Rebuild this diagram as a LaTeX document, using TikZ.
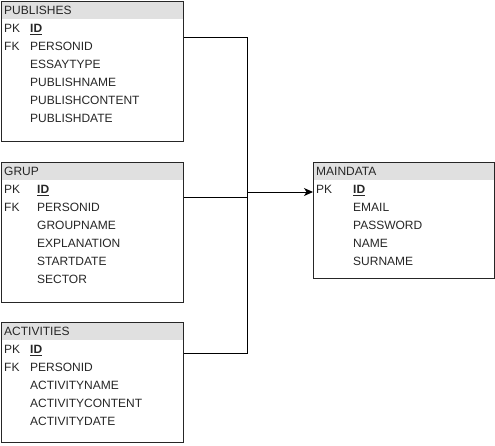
\documentclass[tikz,border=0pt]{standalone}
\usepackage{fontspec}
\setmainfont{Liberation Sans}
\usetikzlibrary{arrows.meta}

\tikzset{
  tablebox/.style={draw=black!85, line width=1pt, inner sep=0pt, anchor=north west},
  tablehead/.style={fill=black!12, inner sep=0pt, anchor=north west, minimum height=18},
  field/.style={inner sep=0pt, anchor=west, text height=8.6pt, text depth=0pt, text=black!85, font=\fontsize{12}{14}\selectfont},
  link/.style={line width=1pt},
}
\newcommand{\keyfield}[1]{\underline{\textbf{#1}}}

\begin{document}
\begin{tikzpicture}[x=1pt, y=-1pt]
    \useasboundingbox (0,0) rectangle (495,445);

    % PUBLISHES
    \node [tablehead, minimum width=182] (pubhead) at (1,1) {};
    \node [tablebox, minimum width=182, minimum height=140] (pub) at (1,1) {};
    \node [field] (pubname) at (4,10) {PUBLISHES};
    \node [field] (pubpk) at (4,28) {PK};
    \node [field] (pubid) at (30,28) {\keyfield{ID}};
    \node [field] (pubfk) at (4,46) {FK};
    \node [field] (pubperson) at (30,46) {PERSONID};
    \node [field] (pubessay) at (30,64) {ESSAYTYPE};
    \node [field] (pubtitle) at (30,82) {PUBLISHNAME};
    \node [field] (pubcontent) at (30,100) {PUBLISHCONTENT};
    \node [field] (pubdate) at (30,118) {PUBLISHDATE};

    % GRUP
    \node [tablehead, minimum width=182] (grphead) at (1,162) {};
    \node [tablebox, minimum width=182, minimum height=140] (grp) at (1,162) {};
    \node [field] (grpname) at (4,171) {GRUP};
    \node [field] (grppk) at (4,189) {PK};
    \node [field] (grpid) at (37,189) {\keyfield{ID}};
    \node [field] (grpfk) at (4,207) {FK};
    \node [field] (grpperson) at (37,207) {PERSONID};
    \node [field] (grptitle) at (37,225) {GROUPNAME};
    \node [field] (grpexpl) at (37,243) {EXPLANATION};
    \node [field] (grpstart) at (37,261) {STARTDATE};
    \node [field] (grpsector) at (37,279) {SECTOR};

    % ACTIVITIES
    \node [tablehead, minimum width=182] (acthead) at (1,322) {};
    \node [tablebox, minimum width=182, minimum height=120] (act) at (1,322) {};
    \node [field] (actname) at (4,331) {ACTIVITIES};
    \node [field] (actpk) at (4,349) {PK};
    \node [field] (actid) at (30,349) {\keyfield{ID}};
    \node [field] (actfk) at (4,367) {FK};
    \node [field] (actperson) at (30,367) {PERSONID};
    \node [field] (acttitle) at (30,385) {ACTIVITYNAME};
    \node [field] (actcontent) at (30,403) {ACTIVITYCONTENT};
    \node [field] (actdate) at (30,421) {ACTIVITYDATE};

    % MAINDATA
    \node [tablehead, minimum width=181] (mainhead) at (313,162) {};
    \node [tablebox, minimum width=181, minimum height=116] (main) at (313,162) {};
    \node [field] (mainname) at (316,171) {MAINDATA};
    \node [field] (mainpk) at (316,189) {PK};
    \node [field] (mainid) at (353,189) {\keyfield{ID}};
    \node [field] (mainmail) at (353,207) {EMAIL};
    \node [field] (mainpass) at (353,225) {PASSWORD};
    \node [field] (mainfirst) at (353,243) {NAME};
    \node [field] (mainlast) at (353,261) {SURNAME};

    % connectors
    \coordinate (pubout) at (pub.east |- 0,37);
    \coordinate (grpout) at (grp.east |- 0,197);
    \coordinate (actout) at (act.east |- 0,353);
    \coordinate (bustop) at (247,37);
    \coordinate (busbot) at (247,353);
    \coordinate (busmid) at (247,192);
    \coordinate (mainin) at (main.west |- busmid);

    \draw [link] (pubout) -- (bustop) -- (busbot) -- (actout);
    \draw [link] (grpout) -- (grpout -| bustop);
    \draw [link, -{Stealth[length=9pt, width=8pt, inset=2.5pt]}] (busmid) -- (mainin);
\end{tikzpicture}
\end{document}
